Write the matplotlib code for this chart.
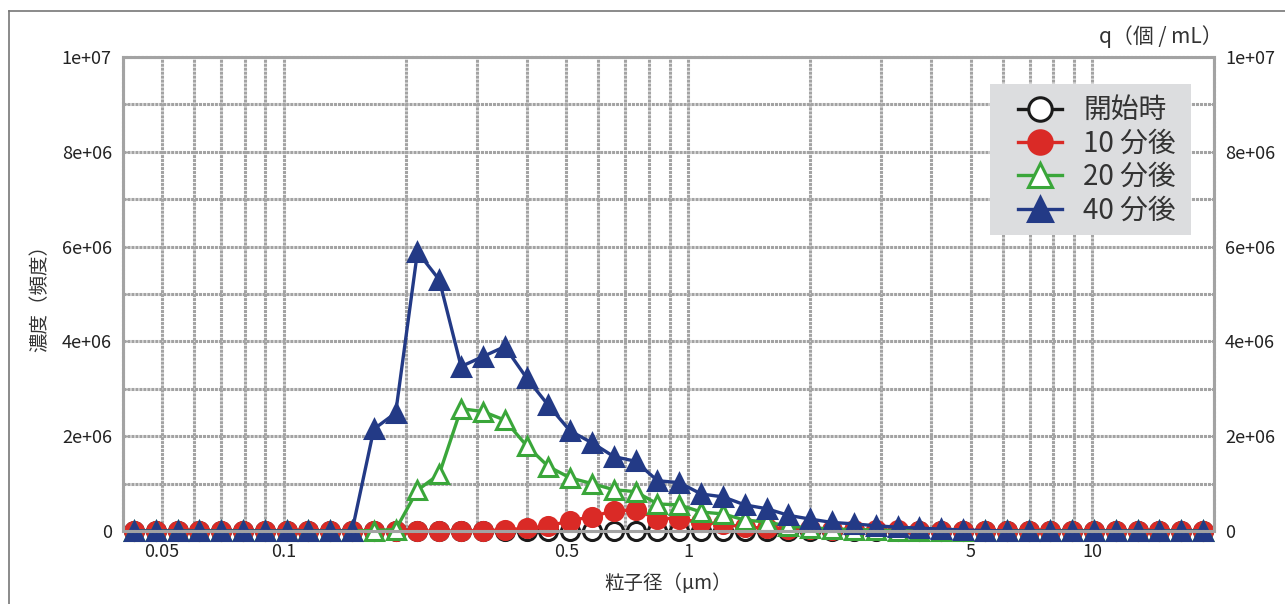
import matplotlib
matplotlib.use('Agg')
import matplotlib.pyplot as plt
from matplotlib.ticker import FixedLocator, LogLocator, FuncFormatter, MultipleLocator, NullFormatter
from matplotlib.lines import Line2D
from matplotlib.patches import Rectangle

plt.rcParams['font.family'] = ['Noto Sans CJK JP', 'DejaVu Sans']

# particle size bins (um)
size = [0.04256, 0.04819, 0.05457, 0.06180, 0.06998, 0.07924, 0.08971, 0.1016, 0.1150, 0.1302,
        0.1475, 0.1670, 0.1891, 0.2141, 0.2424, 0.2745, 0.3108, 0.3520, 0.3986, 0.4513,
        0.5110, 0.5787, 0.6553, 0.7420, 0.8402, 0.9518, 1.078, 1.221, 1.382, 1.565,
        1.772, 2.007, 2.272, 2.573, 2.914, 3.299, 3.736, 4.230, 4.790, 5.424,
        6.142, 6.955, 7.876, 8.918, 10.10, 11.43, 12.95, 14.66, 16.60, 18.80]

# concentration, units of 1e6 per mL
start = [0, 0, 0, 0, 0, 0, 0, 0, 0, 0,
         0, 0, 0, 0, 0, 0, 0, 0, 0, 0,
         0, 0, 0, 0, 0, 0, 0, 0, 0, 0,
         0, 0, 0, 0, 0, 0, 0, 0, 0, 0,
         0, 0, 0, 0, 0, 0, 0, 0, 0, 0]
min10 = [0, 0, 0, 0, 0, 0, 0, 0, 0, 0,
         0, 0, 0, 0, 0, 0, 0.01, 0.02, 0.06, 0.10,
         0.22, 0.30, 0.43, 0.44, 0.26, 0.26, 0.18, 0.15, 0.08, 0.06,
         0.05, 0.04, 0.03, 0.03, 0.02, 0.02, 0.01, 0.01, 0, 0,
         0, 0, 0, 0, 0, 0, 0, 0, 0, 0]
min20 = [0, 0, 0, 0, 0, 0, 0, 0, 0, 0,
         0, 0.01, 0.03, 0.86, 1.20, 2.58, 2.52, 2.34, 1.80, 1.36,
         1.12, 1.00, 0.87, 0.83, 0.57, 0.55, 0.40, 0.36, 0.23, 0.19,
         0.10, 0.07, 0.04, 0.03, 0.02, 0.01, 0, 0, 0, 0,
         0, 0, 0, 0, 0, 0, 0, 0, 0, 0]
min40 = [0, 0, 0, 0, 0, 0, 0, 0, 0, 0,
         0, 2.15, 2.49, 5.89, 5.30, 3.47, 3.68, 3.89, 3.23, 2.65,
         2.11, 1.86, 1.57, 1.47, 1.06, 1.02, 0.78, 0.72, 0.55, 0.47,
         0.33, 0.25, 0.18, 0.15, 0.11, 0.08, 0.06, 0.04, 0.02, 0.01,
         0, 0, 0, 0, 0, 0, 0, 0, 0, 0]

labels = ['開始時', '10 分後', '20 分後', '40 分後']
x_ticks = [0.05, 0.1, 0.5, 1, 5, 10]

grid_color = '#a3a3a3'
grid_ls = (0, (1.0, 0.3))

fig = plt.figure(figsize=(12.85, 6.04), dpi=100)
ax = fig.add_axes([0.0957, 0.1209, 0.8490, 0.7847])

series = [
    (start, '#1a1a1a', 'o', 'white'),
    (min10, '#da2a26', 'o', '#da2a26'),
    (min20, '#3aa63a', '^', 'white'),
    (min40, '#233a86', '^', '#233a86'),
]
for (vals, col, mk, face), lab in zip(series, labels):
    y = [v * 1e6 for v in vals]
    ax.plot(size, y, color=col, lw=2.4, marker=mk, ms=13, mfc=face, mec=col,
            mew=2.2, label=lab, clip_on=False)

ax.set_xscale('log')
ax.set_xlim(0.04, 20)
ax.set_ylim(0, 1e7)

ax.xaxis.set_major_locator(FixedLocator(x_ticks))
ax.xaxis.set_major_formatter(FuncFormatter(lambda v, p: f'{v:g}'))
ax.xaxis.set_minor_locator(LogLocator(base=10, subs=range(1, 10), numticks=20))
ax.xaxis.set_minor_formatter(NullFormatter())

ax.yaxis.set_major_locator(MultipleLocator(2e6))
ax.yaxis.set_minor_locator(MultipleLocator(1e6))
ax.yaxis.set_major_formatter(FuncFormatter(lambda v, p: '0' if v == 0 else f'{v:.0e}'))

ax.grid(True, which='both', color=grid_color, lw=2.2, ls=grid_ls)
ax.set_axisbelow(True)
for s in ax.spines.values():
    s.set_color(grid_color)
    s.set_linewidth(2.2)
    s.set_linestyle(grid_ls)

ax.tick_params(axis='x', which='both', length=0, pad=9, labelsize=13, labelcolor='#222222')
ax.tick_params(axis='y', which='both', direction='in', length=4, color=grid_color,
               left=True, right=True, labelleft=True, labelright=True,
               pad=8, labelsize=13, labelcolor='#222222')

ax.set_xlabel('粒子径（μm）', fontsize=14, color='#333333', labelpad=8)
ax.set_ylabel('濃度（頻度）', fontsize=14, color='#333333', labelpad=8)
ax.text(1.008, 1.018, 'q（個 / mL）', transform=ax.transAxes, ha='right', va='bottom',
        fontsize=15, color='#333333')

# grey legend panel, legend itself drawn without frame on top of it
ax.add_patch(Rectangle((0.795, 0.624), 0.184, 0.319, transform=ax.transAxes,
                       facecolor='#dcdddf', edgecolor='none', zorder=4.5, clip_on=False))
leg = ax.legend(loc='upper left', bbox_to_anchor=(0.8203, 0.919), borderaxespad=0,
                fontsize=20, frameon=False, handlelength=1.6, markerscale=1.3,
                labelspacing=0.12, borderpad=0, handletextpad=0.75)
for t in leg.get_texts():
    t.set_color('#333333')

# outer frame of the figure
fig.add_artist(Line2D([9 / 1285, 9 / 1285], [0, 1 - 11 / 604], color='#777777', lw=1.2))
fig.add_artist(Line2D([9 / 1285, 1], [1 - 11 / 604, 1 - 11 / 604], color='#777777', lw=1.2))

fig.savefig('out.png', dpi=100)
